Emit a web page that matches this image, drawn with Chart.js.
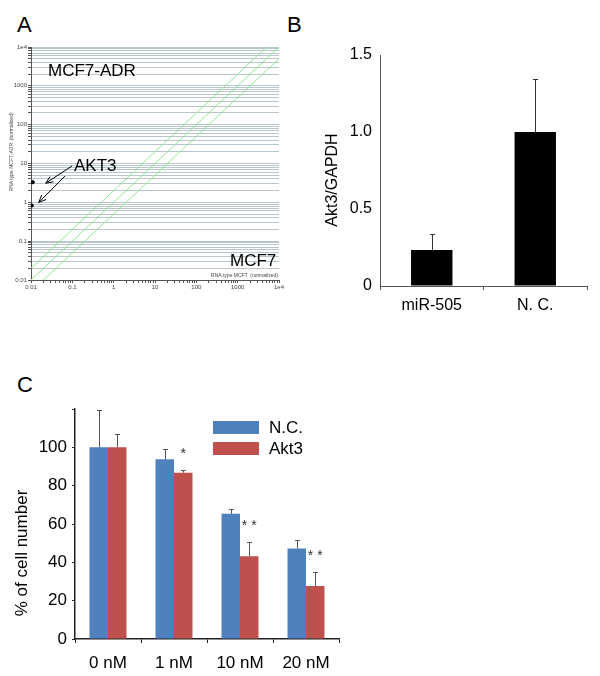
<!DOCTYPE html>
<html>
<head>
<meta charset="utf-8">
<script src="https://cdn.jsdelivr.net/npm/chart.js@4/dist/chart.umd.min.js"></script>
<style>
  body { margin: 0; background: #fff; }
  #wrap { position: relative; width: 600px; height: 676px; font-family: "Liberation Sans", Arial, sans-serif; }
  canvas { position: absolute; }
  .lbl { position: absolute; font-size: 22px; line-height: 22px; color: #000; }
</style>
</head>
<body>
<div id="wrap">
  <div class="lbl" style="left:17px;top:14px">A</div>
  <div class="lbl" style="left:287px;top:14px">B</div>
  <div class="lbl" style="left:17px;top:374px">C</div>
  <canvas id="chartA" width="300" height="330" style="left:0;top:0"></canvas>
  <canvas id="chartB" width="300" height="330" style="left:300px;top:0"></canvas>
  <canvas id="chartC" width="420" height="316" style="left:0;top:360px"></canvas>
</div>
<script>
// panel A - scatter of expression, log/log
var decadeLabels = ['0.01', '0.1', '1', '10', '100', '1000', '1e4'];
var akt3X = [0.011, 0.0104];
var akt3Y = [3.3, 0.83];
var foldRatios = [2, 1, 0.5];

// panel B - qPCR
var bCategories = ['miR-505', 'N. C.'];
var bValues = [0.234, 1.0];
var bErrors = [0.104, 0.344];
var bTickLabels = ['0', '0.5', '1.0', '1.5'];

// panel C - cell number
var cCategories = ['0 nM', '1 nM', '10 nM', '20 nM'];
var ncValues = [100, 93.8, 65.3, 47.2];
var ncErrors = [19.3, 5.3, 2.4, 4.4];
var akt3Values = [100, 86.8, 43.2, 27.6];
var akt3Errors = [7.1, 1.4, 7.2, 7.1];
var cStars = ['', '*', '* *', '* *'];
var cTickLabels = ['0', '20', '40', '60', '80', '100', ''];

var FONT = '"Liberation Sans", Arial, sans-serif';
Chart.defaults.font.family = FONT;
Chart.defaults.color = '#000';

// log ticks 1..9 per decade, used for the grid lines
var logTicks = [];
for (var e = -2; e < 4; e++) {
  for (var k = 1; k < 10; k++) logTicks.push(k * Math.pow(10, e));
}
logTicks.push(1e4);

function decadeLabel(value) {
  var l = Math.log10(value);
  if (Math.abs(l - Math.round(l)) < 1e-6) return decadeLabels[Math.round(l) + 2];
  return '';
}

function setLogTicks(scale) {
  scale.ticks = logTicks.map(function (v) { return { value: v }; });
}

function arrow(ctx, x1, y1, x2, y2) {
  var a = Math.atan2(y2 - y1, x2 - x1), h = 8;
  ctx.beginPath();
  ctx.moveTo(x1, y1); ctx.lineTo(x2, y2);
  ctx.moveTo(x2 - h * Math.cos(a - 0.4), y2 - h * Math.sin(a - 0.4));
  ctx.lineTo(x2, y2);
  ctx.lineTo(x2 - h * Math.cos(a + 0.4), y2 - h * Math.sin(a + 0.4));
  ctx.stroke();
}

var annotateA = {
  id: 'annotateA',
  afterDraw: function (chart) {
    var ctx = chart.ctx, xs = chart.scales.x, ys = chart.scales.y;
    ctx.save();
    ctx.fillStyle = '#000';
    ctx.font = '17px ' + FONT;
    ctx.textBaseline = 'middle';
    ctx.fillText('MCF7-ADR', 48, 71);
    ctx.fillText('MCF7', 230, 261);
    ctx.fillText('AKT3', 74, 166);
    // arrows from label to the two points
    ctx.strokeStyle = '#000';
    ctx.lineWidth = 1;
    var p1x = xs.getPixelForValue(akt3X[0]), p1y = ys.getPixelForValue(akt3Y[0]);
    var p2x = xs.getPixelForValue(akt3X[1]), p2y = ys.getPixelForValue(akt3Y[1]);
    arrow(ctx, 72, 166, p1x + 13, p1y + 1);
    arrow(ctx, 65, 176, p2x + 7, p2y - 3);
    // tiny axis titles
    ctx.fillStyle = '#444';
    ctx.font = '5px ' + FONT;
    ctx.textAlign = 'right';
    ctx.fillText('RNA type MCF7  (normalized)', 278, 276);
    ctx.translate(12, 152);
    ctx.rotate(-Math.PI / 2);
    ctx.textAlign = 'center';
    ctx.fillText('RNA type MCF7-ADR  (normalized)', 0, 0);
    ctx.restore();
  }
};

var errorBars = {
  id: 'errorBars',
  afterDatasetsDraw: function (chart) {
    var ctx = chart.ctx, y = chart.scales.y;
    chart.data.datasets.forEach(function (ds, i) {
      if (!ds.errors) return;
      chart.getDatasetMeta(i).data.forEach(function (bar, j) {
        var x = Math.round(bar.x) + 0.5;
        var top = Math.round(y.getPixelForValue(ds.data[j] + ds.errors[j])) + 0.5;
        ctx.save();
        ctx.strokeStyle = ds.errorColor || '#333';
        ctx.lineWidth = 1;
        ctx.beginPath();
        ctx.moveTo(x, bar.y); ctx.lineTo(x, top);
        ctx.moveTo(x - 2.5, top); ctx.lineTo(x + 2.5, top);
        ctx.stroke();
        ctx.restore();
      });
    });
  }
};

// ---------- A ----------
var datasetsA = foldRatios.map(function (r) {
  return {
    type: 'scatter',
    showLine: true,
    data: [{ x: 0.01, y: 0.01 * r }, { x: 1e4, y: 1e4 * r }],
    borderColor: '#90e690',
    borderWidth: 1,
    pointRadius: 0
  };
});
datasetsA.push({
  type: 'scatter',
  data: akt3X.map(function (x, i) { return { x: x, y: akt3Y[i] }; }),
  backgroundColor: '#000',
  borderColor: '#000',
  pointRadius: 1.6
});

new Chart(document.getElementById('chartA'), {
  type: 'scatter',
  data: { datasets: datasetsA },
  options: {
    responsive: false,
    animation: false,
    layout: { padding: { top: 47, right: 21, left: 0, bottom: 0 } },
    plugins: { legend: { display: false }, tooltip: { enabled: false } },
    scales: {
      x: {
        type: 'logarithmic', min: 0.01, max: 1e4,
        afterBuildTicks: setLogTicks,
        afterFit: function (s) { s.height = 50; },
        border: { color: '#555' },
        grid: { drawOnChartArea: false, tickLength: 3, tickColor: '#555' },
        ticks: { callback: decadeLabel, autoSkip: false, maxRotation: 0, padding: 1, font: { size: 6 }, color: '#444' }
      },
      y: {
        type: 'logarithmic', min: 0.01, max: 1e4,
        afterBuildTicks: setLogTicks,
        afterFit: function (s) { s.width = 31; },
        border: { color: '#555' },
        grid: { color: '#b8c6cc', tickLength: 3, tickColor: '#555' },
        ticks: { callback: decadeLabel, autoSkip: false, padding: 1, font: { size: 6 }, color: '#444' }
      }
    }
  },
  plugins: [annotateA]
});

// ---------- B ----------
var titleB = {
  id: 'titleB',
  afterDraw: function (chart) {
    var ctx = chart.ctx;
    ctx.save();
    ctx.font = '16px ' + FONT;
    ctx.fillStyle = '#000';
    ctx.textAlign = 'center';
    ctx.textBaseline = 'middle';
    ctx.translate(33, 180);
    ctx.rotate(-Math.PI / 2);
    ctx.fillText('Akt3/GAPDH', 0, 0);
    ctx.restore();
  }
};

new Chart(document.getElementById('chartB'), {
  type: 'bar',
  data: {
    labels: bCategories,
    datasets: [{
      data: bValues,
      errors: bErrors,
      backgroundColor: '#000',
      barPercentage: 0.4,
      categoryPercentage: 1
    }]
  },
  options: {
    responsive: false,
    animation: false,
    layout: { padding: { top: 55, right: 13, left: 0, bottom: 0 } },
    plugins: { legend: { display: false }, tooltip: { enabled: false } },
    scales: {
      x: {
        afterFit: function (s) { s.height = 44; },
        border: { color: '#555' },
        grid: { offset: true, drawOnChartArea: false, tickLength: 4, tickColor: '#555' },
        ticks: { font: { size: 16 }, padding: 6 }
      },
      y: {
        min: 0, max: 1.5,
        afterFit: function (s) { s.width = 80; },
        border: { color: '#555' },
        grid: { drawOnChartArea: false, tickLength: 0 },
        ticks: {
          stepSize: 0.5, padding: 8, font: { size: 16 },
          callback: function (v, i) { return bTickLabels[i]; }
        }
      }
    }
  },
  plugins: [errorBars, titleB]
});

// ---------- C ----------
var extrasC = {
  id: 'extrasC',
  afterDraw: function (chart) {
    var ctx = chart.ctx, y = chart.scales.y;
    var ds = chart.data.datasets;
    ctx.save();
    // y title
    ctx.font = '17px ' + FONT;
    ctx.fillStyle = '#000';
    ctx.textAlign = 'center';
    ctx.textBaseline = 'middle';
    ctx.save();
    ctx.translate(22, 193);
    ctx.rotate(-Math.PI / 2);
    ctx.fillText('% of cell number', 0, 0);
    ctx.restore();
    // stars over the Akt3 bars
    ctx.font = '14px ' + FONT;
    ctx.fillStyle = '#333';
    chart.getDatasetMeta(1).data.forEach(function (bar, j) {
      if (!cStars[j]) return;
      var top = y.getPixelForValue(ds[1].data[j] + ds[1].errors[j]);
      ctx.fillText(cStars[j], bar.x, top - 16);
    });
    // legend
    ctx.textAlign = 'left';
    ctx.font = '17px ' + FONT;
    ds.forEach(function (d, i) {
      var ly = 61 + i * 21;
      ctx.fillStyle = d.backgroundColor;
      ctx.fillRect(213, ly, 46, 13);
      ctx.fillStyle = '#000';
      ctx.fillText(d.label, 269, ly + 7);
    });
    ctx.restore();
  }
};

new Chart(document.getElementById('chartC'), {
  type: 'bar',
  data: {
    labels: cCategories,
    datasets: [
      { label: 'N.C.', data: ncValues, errors: ncErrors, backgroundColor: '#4f81bd', errorColor: '#555',
        categoryPercentage: 0.56, barPercentage: 1 },
      { label: 'Akt3', data: akt3Values, errors: akt3Errors, backgroundColor: '#c0504d', errorColor: '#555',
        categoryPercentage: 0.56, barPercentage: 1 }
    ]
  },
  options: {
    responsive: false,
    animation: false,
    layout: { padding: { top: 49, right: 81, left: 0, bottom: 0 } },
    plugins: { legend: { display: false }, tooltip: { enabled: false } },
    scales: {
      x: {
        afterFit: function (s) { s.height = 37; },
        border: { color: '#222', width: 1.5 },
        grid: { offset: true, drawOnChartArea: false, tickLength: 4, tickColor: '#222' },
        ticks: { font: { size: 17 }, padding: 10 }
      },
      y: {
        min: 0, max: 120,
        afterFit: function (s) { s.width = 75; },
        border: { color: '#222', width: 1.5 },
        grid: { drawOnChartArea: false, tickLength: 3, tickColor: '#222' },
        ticks: {
          stepSize: 20, padding: 5, font: { size: 17 },
          callback: function (v, i) { return cTickLabels[i]; }
        }
      }
    }
  },
  plugins: [errorBars, extrasC]
});
</script>
</body>
</html>
